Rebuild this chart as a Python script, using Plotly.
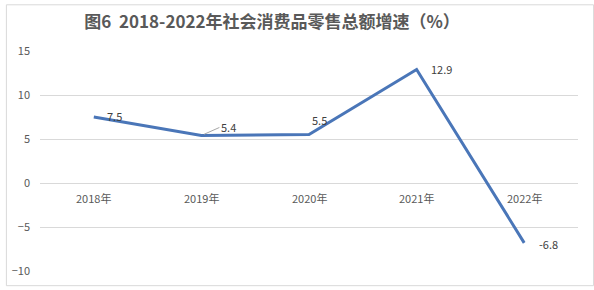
import plotly.graph_objects as go

years = ["2018年", "2019年", "2020年", "2021年", "2022年"]
growth = [7.5, 5.4, 5.5, 12.9, -6.8]
labels = ["7.5", "5.4", "5.5", "12.9", "-6.8"]
yticks = [-10, -5, 0, 5, 10, 15]
title = "图6  2018-2022年社会消费品零售总额增速（%）"

font_cjk = "Microsoft YaHei, Noto Sans CJK SC, sans-serif"
grey = "#595959"

fig = go.Figure()
fig.add_trace(go.Scatter(x=list(range(len(years))), y=growth, mode="lines",
                         line=dict(color="#4a76b8", width=3), hoverinfo="skip"))

# label offsets (px)
offs = [(11, 1, False), (10, 8, True), (1, 15, False), (12, 0, False), (13, -1, False)]
for i, (v, t) in enumerate(zip(growth, labels)):
    dx, dy, arrow = offs[i]
    if arrow:
        fig.add_annotation(x=i, y=v, text=t, showarrow=True, ax=18, ay=-8,
                           axref="pixel", ayref="pixel", arrowhead=0, arrowwidth=1,
                           arrowcolor="#a6a6a6", standoff=3, xanchor="left",
                           font=dict(size=11, color="#404040", family=font_cjk))
    else:
        fig.add_annotation(x=i, y=v, text=t, showarrow=False, xanchor="left",
                           xshift=dx, yshift=dy,
                           font=dict(size=11, color="#404040", family=font_cjk))

for i, yl in enumerate(years):
    fig.add_annotation(x=i, y=0, text=yl, showarrow=False, yshift=-15,
                       font=dict(size=11, color=grey, family=font_cjk))

fig.update_layout(
    width=594, height=290,
    margin=dict(l=34, r=16, t=51, b=15),
    paper_bgcolor="white", plot_bgcolor="white",
    showlegend=False,
    title=dict(text=title, x=0.458, xanchor="center", y=0.925, yanchor="middle",
               font=dict(size=17, color=grey, family=font_cjk, weight="bold")),
    xaxis=dict(range=[-0.5, 4.5], showticklabels=False, showgrid=False,
               zeroline=False, showline=False),
    yaxis=dict(range=[-10, 15], tickvals=yticks, showgrid=True,
               gridcolor="#d9d9d9", gridwidth=1, zeroline=False,
               ticklabelstandoff=9,
               tickfont=dict(size=11, color=grey, family=font_cjk)),
    shapes=[dict(type="rect", xref="paper", yref="paper", x0=-0.0625, x1=1.029,
                 y0=-0.0667, y1=1.21, line=dict(color="#d9d9d9", width=1))],
)
fig.write_html("out.html")
